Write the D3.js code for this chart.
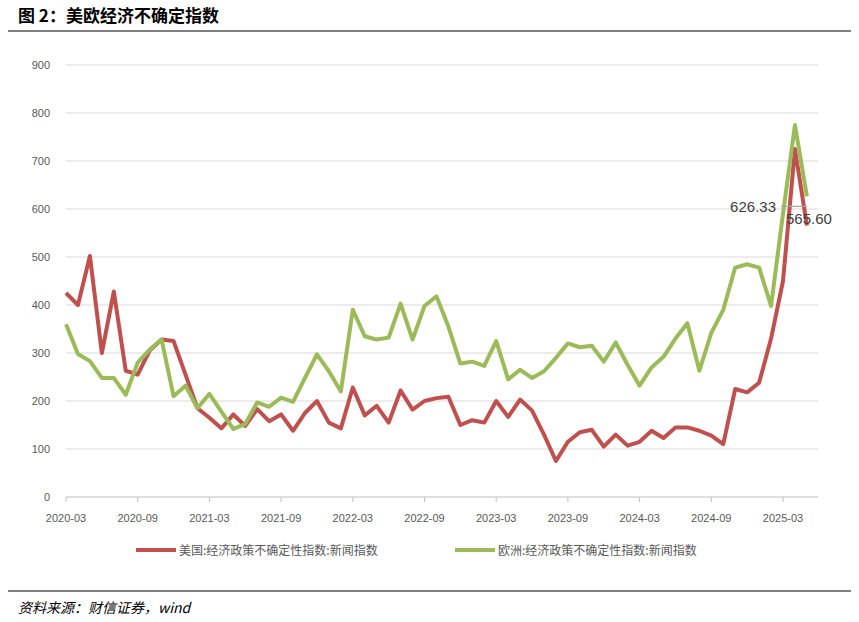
<!DOCTYPE html>
<html><head><meta charset="utf-8">
<script src="https://cdn.jsdelivr.net/npm/d3@7"></script>
<style>body{margin:0;background:#fff}</style>
</head><body><svg width="859" height="622"></svg>
<script>
var ticks = ["2020-03","2020-09","2021-03","2021-09","2022-03","2022-09","2023-03","2023-09","2024-03","2024-09","2025-03"];
var usVals = [425,400,502,300,428,263,255,305,328,325,255,185,165,143,172,148,183,158,172,138,175,200,155,143,228,170,190,155,222,182,200,206,209,150,160,155,200,167,203,180,130,75,115,135,140,105,130,107,115,138,123,145,145,138,128,110,225,218,238,330,450,725,565.60];
var euVals = [360,298,283,248,248,213,280,307,328,210,232,185,215,178,142,152,197,188,207,198,248,297,262,220,390,335,328,332,403,328,398,418,355,278,282,273,325,245,265,248,262,290,320,312,315,282,322,275,232,270,292,330,362,263,342,390,478,485,478,398,590,775,626.33];
var usName = "美国:经济政策不确定性指数:新闻指数";
var euName = "欧洲:经济政策不确定性指数:新闻指数";

var svg = d3.select("svg");
var x = d3.scaleLinear().domain([0, 60]).range([66, 783]);
var y = d3.scaleLinear().domain([0, 900]).range([497, 65]);

svg.append("text").attr("x", 18).attr("y", 22).text("图 2：美欧经济不确定指数")
	.style("font-family", "Noto Sans CJK SC").style("font-weight", "bold").style("font-size", "17px");
svg.append("line").attr("x1", 8).attr("x2", 851).attr("y1", 31).attr("y2", 31).style("stroke", "#000").style("stroke-width", 1.2);

var yTicks = d3.range(0, 901, 100);
svg.selectAll(".grid").data(yTicks.slice(1)).enter().append("line")
	.attr("x1", 66).attr("x2", 818).attr("y1", function(d){return y(d)}).attr("y2", function(d){return y(d)})
	.style("stroke", "#d9d9d9").style("stroke-width", 1);
svg.selectAll(".yl").data(yTicks).enter().append("text")
	.attr("x", 50).attr("y", function(d){return y(d) + 4}).attr("text-anchor", "end")
	.style("font-family", "Liberation Sans").style("font-size", "11px").style("fill", "#595959")
	.text(function(d){return d});

svg.append("line").attr("x1", 66).attr("x2", 818).attr("y1", y(0)).attr("y2", y(0)).style("stroke", "#bfbfbf");
svg.selectAll(".xt").data(ticks).enter().append("line")
	.attr("x1", function(d, i){return x(i * 6)}).attr("x2", function(d, i){return x(i * 6)})
	.attr("y1", y(0)).attr("y2", y(0) + 5).style("stroke", "#bfbfbf");
svg.selectAll(".xl").data(ticks).enter().append("text")
	.attr("x", function(d, i){return x(i * 6)}).attr("y", 522).attr("text-anchor", "middle")
	.style("font-family", "Liberation Sans").style("font-size", "11px").style("fill", "#595959")
	.text(function(d){return d});

var line = d3.line().x(function(d, i){return x(i)}).y(function(d){return y(d)});
svg.append("path").datum(usVals).attr("d", line).style("fill", "none").style("stroke", "#c0504d").style("stroke-width", 4).style("stroke-linejoin", "round");
svg.append("path").datum(euVals).attr("d", line).style("fill", "none").style("stroke", "#9bbb59").style("stroke-width", 4).style("stroke-linejoin", "round");

var lastI = euVals.length - 1;
svg.append("line").attr("x1", 781).attr("x2", x(lastI)).attr("y1", y(euVals[lastI]) + 10).attr("y2", y(euVals[lastI]) + 10).style("stroke", "#a6a6a6").style("stroke-width", 1.2);
svg.append("text").attr("x", 776).attr("y", y(euVals[lastI]) + 16).attr("text-anchor", "end")
	.style("font-family", "Liberation Sans").style("font-size", "15px").style("fill", "#404040").text(euVals[lastI].toFixed(2));
svg.append("text").attr("x", 786).attr("y", y(euVals[lastI]) + 28)
	.style("font-family", "Liberation Sans").style("font-size", "15px").style("fill", "#404040").text(usVals[lastI].toFixed(2));

var legend = [{n: usName, c: "#c0504d", x: 136}, {n: euName, c: "#9bbb59", x: 455}];
legend.forEach(function(l){
	svg.append("line").attr("x1", l.x).attr("x2", l.x + 40).attr("y1", 550).attr("y2", 550).style("stroke", l.c).style("stroke-width", 4);
	svg.append("text").attr("x", l.x + 43).attr("y", 555).text(l.n)
		.style("font-family", "Noto Sans CJK SC").style("font-size", "12px").style("fill", "#595959");
});

svg.append("line").attr("x1", 8).attr("x2", 851).attr("y1", 591).attr("y2", 591).style("stroke", "#000").style("stroke-width", 1.2);
svg.append("text").attr("x", 18).attr("y", 613).text("资料来源：财信证券，wind")
	.style("font-family", "Noto Sans CJK SC").style("font-style", "italic").style("font-size", "14px");
</script></body></html>
